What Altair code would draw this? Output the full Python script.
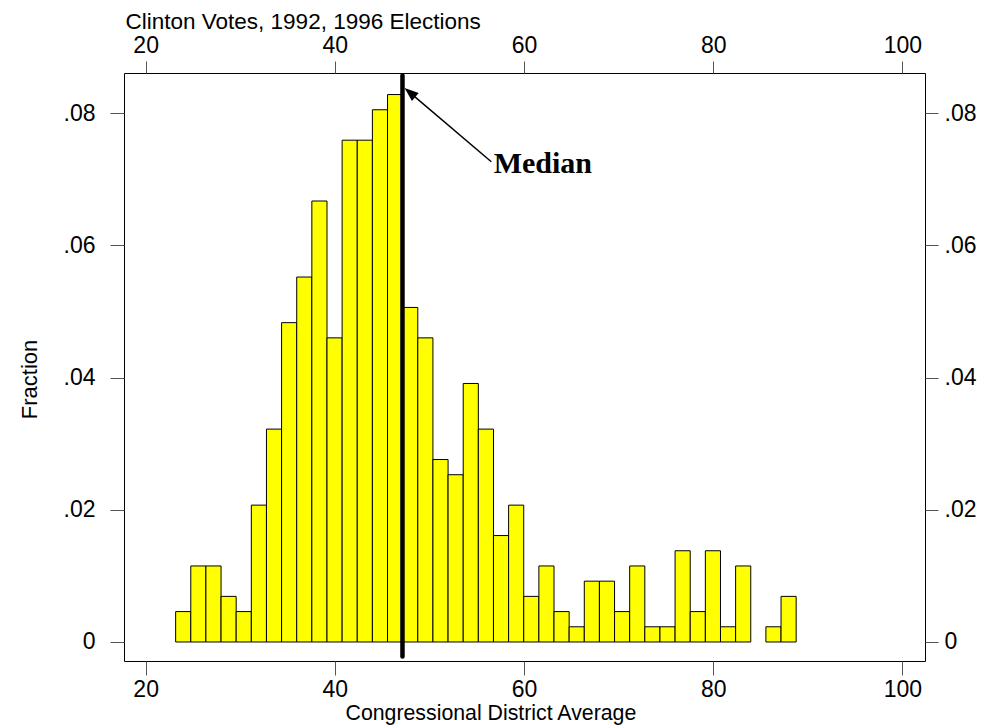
import altair as alt
import pandas as pd

# Histogram bins (left edges / right edges, Clinton vote share) and fractions
bin_left = [23.17, 24.77, 26.37, 27.97, 29.57, 31.17, 32.77, 34.37, 35.97, 37.57,
            39.17, 40.77, 42.37, 43.97, 45.57, 47.17, 48.77, 50.37, 51.97, 53.57,
            55.17, 56.77, 58.37, 59.97, 61.57, 63.17, 64.77, 66.37, 67.97, 69.57,
            71.17, 72.77, 74.37, 75.97, 77.57, 79.17, 80.77, 82.37, 83.97, 85.57,
            87.17]
bin_right = [24.77, 26.37, 27.97, 29.57, 31.17, 32.77, 34.37, 35.97, 37.57, 39.17,
             40.77, 42.37, 43.97, 45.57, 47.17, 48.77, 50.37, 51.97, 53.57, 55.17,
             56.77, 58.37, 59.97, 61.57, 63.17, 64.77, 66.37, 67.97, 69.57, 71.17,
             72.77, 74.37, 75.97, 77.57, 79.17, 80.77, 82.37, 83.97, 85.57, 87.17,
             88.77]
fraction = [0.0046, 0.0115, 0.0115, 0.0069, 0.0046, 0.0207, 0.0322, 0.0483, 0.0552, 0.0667,
            0.0460, 0.0759, 0.0759, 0.0805, 0.0828, 0.0506, 0.0460, 0.0276, 0.0253, 0.0391,
            0.0322, 0.0161, 0.0207, 0.0069, 0.0115, 0.0046, 0.0023, 0.0092, 0.0092, 0.0046,
            0.0115, 0.0023, 0.0023, 0.0138, 0.0046, 0.0138, 0.0023, 0.0115, 0.0, 0.0023,
            0.0069]

x_ticks = [20, 40, 60, 80, 100]
y_ticks = [0, 0.02, 0.04, 0.06, 0.08]

median_value = 47.15
# annotation (data units)
arrow_tail = (56.54, 0.07264)
arrow_head = (47.94, 0.0831)
label_pos = (56.79, 0.07093)

XDOM = [17.71, 102.39]
YDOM = [-0.002874, 0.08606]

bars = pd.DataFrame({"lo": bin_left, "hi": bin_right, "frac": fraction})
bars = bars[bars["frac"] > 0]

FONT = "Liberation Sans"
ylab = "datum.value == 0 ? '0' : replace(format(datum.value, '.2f'), '0.', '.')"

xscale = alt.Scale(domain=XDOM, nice=False, zero=False)
yscale = alt.Scale(domain=YDOM, nice=False, zero=False)

bottom_axis = alt.Axis(values=x_ticks, orient="bottom", grid=False, domain=False,
                       tickSize=14, tickColor="#555555", labelPadding=3,
                       labelFont=FONT, labelFontSize=23, labelColor="black",
                       title="Congressional District Average", titleFont=FONT,
                       titleFontSize=21.3, titleFontWeight="normal", titleColor="black",
                       titleX=221, titleY=58, titleAlign="left", titleBaseline="alphabetic",
                       format="d")
left_axis = alt.Axis(values=y_ticks, orient="left", grid=False, domain=False,
                     tickSize=14, tickColor="#555555", labelPadding=15,
                     labelFont=FONT, labelFontSize=23, labelColor="black",
                     labelExpr=ylab,
                     title="Fraction", titleFont=FONT, titleFontSize=22,
                     titleFontWeight="normal", titleColor="black",
                     titleX=-88, titleY=306, titleAngle=270, titleAlign="center",
                     titleBaseline="alphabetic")
top_axis = alt.Axis(values=x_ticks, orient="top", grid=False, domain=False,
                    tickSize=12, tickColor="#555555", labelPadding=4,
                    labelFont=FONT, labelFontSize=23, labelColor="black",
                    title="Clinton Votes, 1992, 1996 Elections", titleFont=FONT,
                    titleFontSize=22.5, titleFontWeight="normal", titleColor="black",
                    titleX=1, titleY=-45, titleAlign="left", titleBaseline="alphabetic",
                    format="d")
right_axis = alt.Axis(values=y_ticks, orient="right", grid=False, domain=False,
                      tickSize=13, tickColor="#555555", labelPadding=6,
                      labelFont=FONT, labelFontSize=23, labelColor="black",
                      labelExpr=ylab, title=None)

bar_layer = alt.Chart(bars).mark_rect(fill="#FFFF00", stroke="black", strokeWidth=1).encode(
    x=alt.X("lo:Q", scale=xscale, axis=bottom_axis),
    x2="hi:Q",
    y=alt.Y("frac:Q", scale=yscale, axis=left_axis),
    y2=alt.datum(0),
)

median_df = pd.DataFrame({"x": [median_value], "y0": [-0.0022], "y1": [0.0857]})
median_layer = alt.Chart(median_df).mark_rule(color="black", strokeWidth=4.5, strokeCap="round").encode(
    x=alt.X("x:Q", scale=xscale, axis=top_axis),
    y=alt.Y("y0:Q", scale=yscale, axis=right_axis),
    y2="y1:Q",
)

arrow_df = pd.DataFrame({"x": [arrow_tail[0]], "y": [arrow_tail[1]],
                         "x2": [arrow_head[0]], "y2": [arrow_head[1]]})
arrow_line = alt.Chart(arrow_df).mark_rule(color="black", strokeWidth=1.5).encode(
    x=alt.X("x:Q", scale=xscale, axis=None),
    y=alt.Y("y:Q", scale=yscale, axis=None),
    x2="x2:Q", y2="y2:Q",
)
head_df = pd.DataFrame({"x": [arrow_head[0]], "y": [arrow_head[1]]})
arrow_head_layer = alt.Chart(head_df).mark_point(
    shape="M0,-1L0.75,1L-0.75,1Z", filled=True, color="black", opacity=1,
    size=196, angle=310, strokeWidth=0
).encode(
    x=alt.X("x:Q", scale=xscale, axis=None),
    y=alt.Y("y:Q", scale=yscale, axis=None),
)

text_df = pd.DataFrame({"x": [label_pos[0]], "y": [label_pos[1]], "t": ["Median"]})
text_layer = alt.Chart(text_df).mark_text(
    align="left", baseline="alphabetic", font="Liberation Serif", fontSize=30,
    fontWeight="bold", color="black"
).encode(
    x=alt.X("x:Q", scale=xscale, axis=None),
    y=alt.Y("y:Q", scale=yscale, axis=None),
    text="t:N",
)

chart = alt.layer(bar_layer, median_layer, arrow_line, arrow_head_layer, text_layer).resolve_axis(
    x="independent", y="independent"
).properties(
    width=801, height=588,
    autosize=alt.AutoSizeParams(type="none"),
    padding={"left": 116, "top": 65, "right": 52, "bottom": 64},
    background="white",
).configure_view(stroke="black", strokeWidth=1)

chart.save("out.html", embed_options={"renderer": "svg", "actions": False})
